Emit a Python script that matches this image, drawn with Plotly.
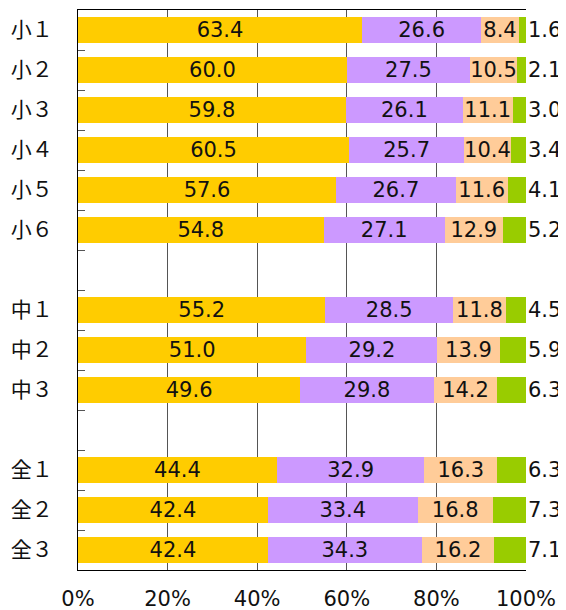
import plotly.graph_objects as go

categories = ["小１", "小２", "小３", "小４", "小５", "小６", " ",
              "中１", "中２", "中３", "  ",
              "全１", "全２", "全３"]
s1 = [63.4, 60.0, 59.8, 60.5, 57.6, 54.8, None, 55.2, 51.0, 49.6, None, 44.4, 42.4, 42.4]
s2 = [26.6, 27.5, 26.1, 25.7, 26.7, 27.1, None, 28.5, 29.2, 29.8, None, 32.9, 33.4, 34.3]
s3 = [8.4, 10.5, 11.1, 10.4, 11.6, 12.9, None, 11.8, 13.9, 14.2, None, 16.3, 16.8, 16.2]
s4 = [1.6, 2.1, 3.0, 3.4, 4.1, 5.2, None, 4.5, 5.9, 6.3, None, 6.3, 7.3, 7.1]
x_ticks = [0, 20, 40, 60, 80, 100]
x_tick_labels = ["0%", "20%", "40%", "60%", "80%", "100%"]

colors = ["#FFCC00", "#CC99FF", "#FFCC99", "#99CC00"]
FONT = "DejaVu Sans, Noto Sans CJK JP, sans-serif"
CJK = "Noto Sans CJK JP, DejaVu Sans, sans-serif"
FS = 21

fig = go.Figure()
for i, s in enumerate([s1, s2, s3]):
    fig.add_trace(go.Bar(
        y=categories, x=s, orientation="h",
        marker=dict(color=colors[i], line=dict(width=0)),
        text=[("%.1f" % v) if v is not None else "" for v in s],
        textposition="inside", insidetextanchor="middle",
        textfont=dict(family=FONT, size=FS, color="#111111"),
        hoverinfo="skip",
    ))
fig.add_trace(go.Bar(
    y=categories, x=s4, orientation="h",
    marker=dict(color=colors[3], line=dict(width=0)),
    hoverinfo="skip",
))

for c, v in zip(categories, s4):
    if v is not None:
        fig.add_annotation(x=100, y=c, xref="x", yref="y", text="%.1f" % v,
                           showarrow=False, xanchor="left", xshift=0,
                           font=dict(family=FONT, size=FS, color="#111111"))

fig.update_layout(
    barmode="stack", bargap=0.35, showlegend=False,
    width=558, height=602,
    margin=dict(l=70, r=40, t=2, b=40, autoexpand=False),
    plot_bgcolor="white", paper_bgcolor="white",
    uniformtext=dict(minsize=FS, mode="show"),
    xaxis=dict(range=[0, 100], tickvals=x_ticks, ticktext=x_tick_labels,
               showgrid=True, gridcolor="#555555", gridwidth=1,
               showline=True, linecolor="black", linewidth=1, mirror=True,
               ticks="", ticklabelstandoff=10, zeroline=False, automargin=False,
               tickfont=dict(family=FONT, size=FS, color="#111111")),
    yaxis=dict(type="category", categoryorder="array", categoryarray=categories,
               autorange="reversed", showgrid=False, automargin=False,
               showline=True, linecolor="black", linewidth=1,
               ticks="inside", tickson="boundaries", ticklen=7, tickcolor="#555555",
               ticklabelstandoff=20,
               tickfont=dict(family=CJK, size=FS, color="#111111")),
)

fig.write_html("out.html")
